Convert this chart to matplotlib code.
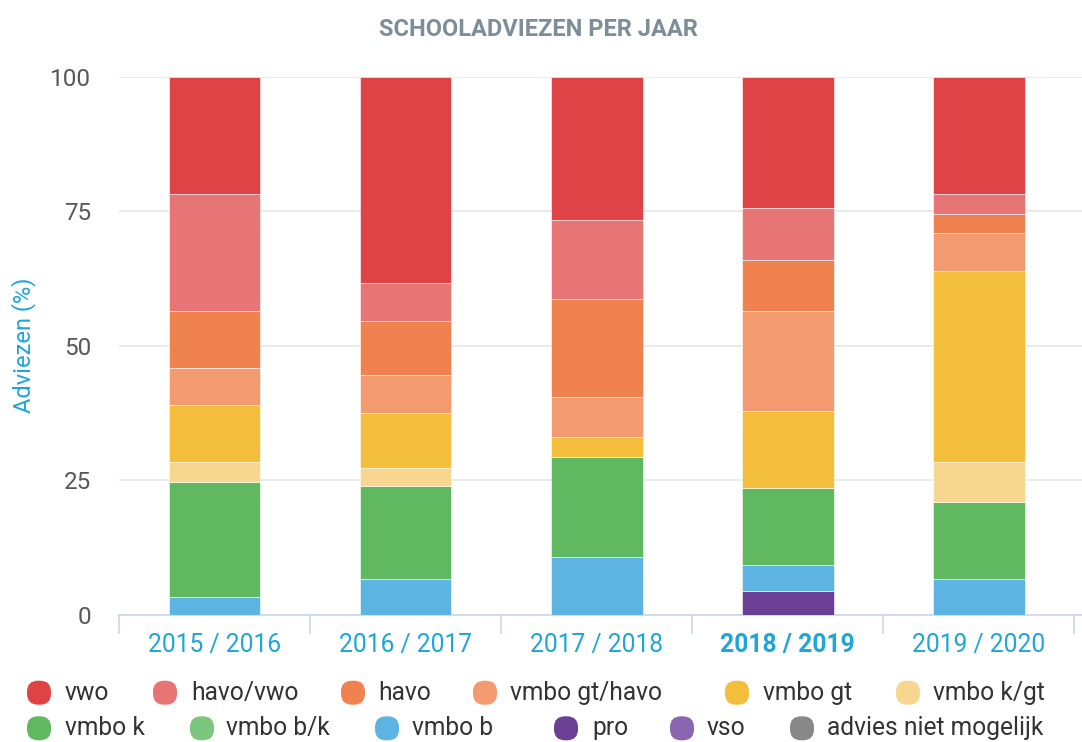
import numpy as np
import matplotlib.pyplot as plt
from matplotlib.patches import FancyBboxPatch

plt.rcParams['font.family'] = ['Roboto', 'DejaVu Sans']

# School years on the x axis
years = ["2015 / 2016", "2016 / 2017", "2017 / 2018", "2018 / 2019", "2019 / 2020"]

# Share of advices per year (%)
vwo = [21.8, 38.4, 26.6, 24.4, 21.8]
havo_vwo = [21.7, 7.0, 14.7, 9.6, 3.7]
havo = [10.7, 10.1, 18.3, 9.5, 3.6]
vmbo_gt_havo = [6.8, 7.0, 7.4, 18.7, 7.0]
vmbo_gt = [10.7, 10.3, 3.7, 14.3, 35.6]
vmbo_k_gt = [3.7, 3.3, 0.0, 0.0, 7.4]
vmbo_k = [21.3, 17.3, 18.7, 14.3, 14.3]
vmbo_b_k = [0.0, 0.0, 0.0, 0.0, 0.0]
vmbo_b = [3.3, 6.6, 10.6, 4.8, 6.6]
pro = [0.0, 0.0, 0.0, 4.4, 0.0]
vso = [0.0, 0.0, 0.0, 0.0, 0.0]
niet_mogelijk = [0.0, 0.0, 0.0, 0.0, 0.0]

names = ["vwo", "havo/vwo", "havo", "vmbo gt/havo", "vmbo gt", "vmbo k/gt",
         "vmbo k", "vmbo b/k", "vmbo b", "pro", "vso", "advies niet mogelijk"]
values = [vwo, havo_vwo, havo, vmbo_gt_havo, vmbo_gt, vmbo_k_gt,
          vmbo_k, vmbo_b_k, vmbo_b, pro, vso, niet_mogelijk]
colors = ["#e04345", "#e87575", "#f0824f", "#f39a70", "#f3be3c", "#f7d78f",
          "#60b960", "#7dc67d", "#5db4e2", "#6b3f93", "#8a66b0", "#888888"]

fig = plt.figure(figsize=(10.82, 7.42), dpi=100)
ax = fig.add_axes([119 / 1082, 127.5 / 742, 963 / 1082, 537.8 / 742])

x = np.arange(len(years))
bottom = np.zeros(len(years))
# stack from the bottom series (last in legend) up to vwo
for name, vals, col in reversed(list(zip(names, values, colors))):
    vals = np.array(vals)
    ax.bar(x, vals, width=0.48, bottom=bottom, color=col,
           edgecolor="white", linewidth=0.4, zorder=3)
    bottom += vals

ax.set_xlim(-0.5, 4.54)
ax.set_ylim(0, 100)
ax.set_yticks([0, 25, 50, 75, 100])
ax.grid(axis="y", color="#e6e6e6", linewidth=1.2, zorder=0)
for s in ["top", "right", "left"]:
    ax.spines[s].set_visible(False)
ax.spines["bottom"].set_color("#ccd6eb")
ax.spines["bottom"].set_linewidth(1.2)

ax.set_xticks(x)
ax.set_xticklabels(years, fontsize=17.7, color="#1ea6d9")
ax.get_xticklabels()[3].set_fontweight("bold")
ax.set_xticks(np.arange(-0.5, 5, 1), minor=True)
ax.tick_params(axis="x", which="major", length=0, pad=13)
ax.tick_params(axis="x", which="minor", length=13.5, width=1.2, color="#ccd6eb")
ax.tick_params(axis="y", length=0, labelsize=17.5, labelcolor="#585858", pad=20)

ax.set_ylabel("Adviezen (%)", fontsize=17, color="#1ea6d9")
ax.yaxis.set_label_coords(-0.086, 0.5)

fig.text(0.498, 1 - 29 / 742, "SCHOOLADVIEZEN PER JAAR", ha="center", va="center",
         fontsize=17, fontweight="bold", color="#7e8e98")

# legend, laid out in two rows like the original
marker_x = [39, 165, 353, 485, 737, 908, 39, 202, 387, 566, 682, 802]
text_x = [65, 191, 378, 510, 763, 933, 65, 226, 412, 592, 707, 827]
row_y = [692.7] * 6 + [728.3] * 6
for name, col, mx, tx, ry in zip(names, colors, marker_x, text_x, row_y):
    yb = (742 - ry) / 100
    box = FancyBboxPatch((mx / 100 - 0.07, yb - 0.07), 0.14, 0.14,
                         boxstyle="round,pad=0.05,rounding_size=0.11",
                         transform=fig.dpi_scale_trans, facecolor=col,
                         edgecolor="none")
    fig.add_artist(box)
    fig.text(tx / 1082, yb / 7.42, name, ha="left", va="center",
             fontsize=17.7, color="#333333")

fig.savefig("out.png", dpi=100)
